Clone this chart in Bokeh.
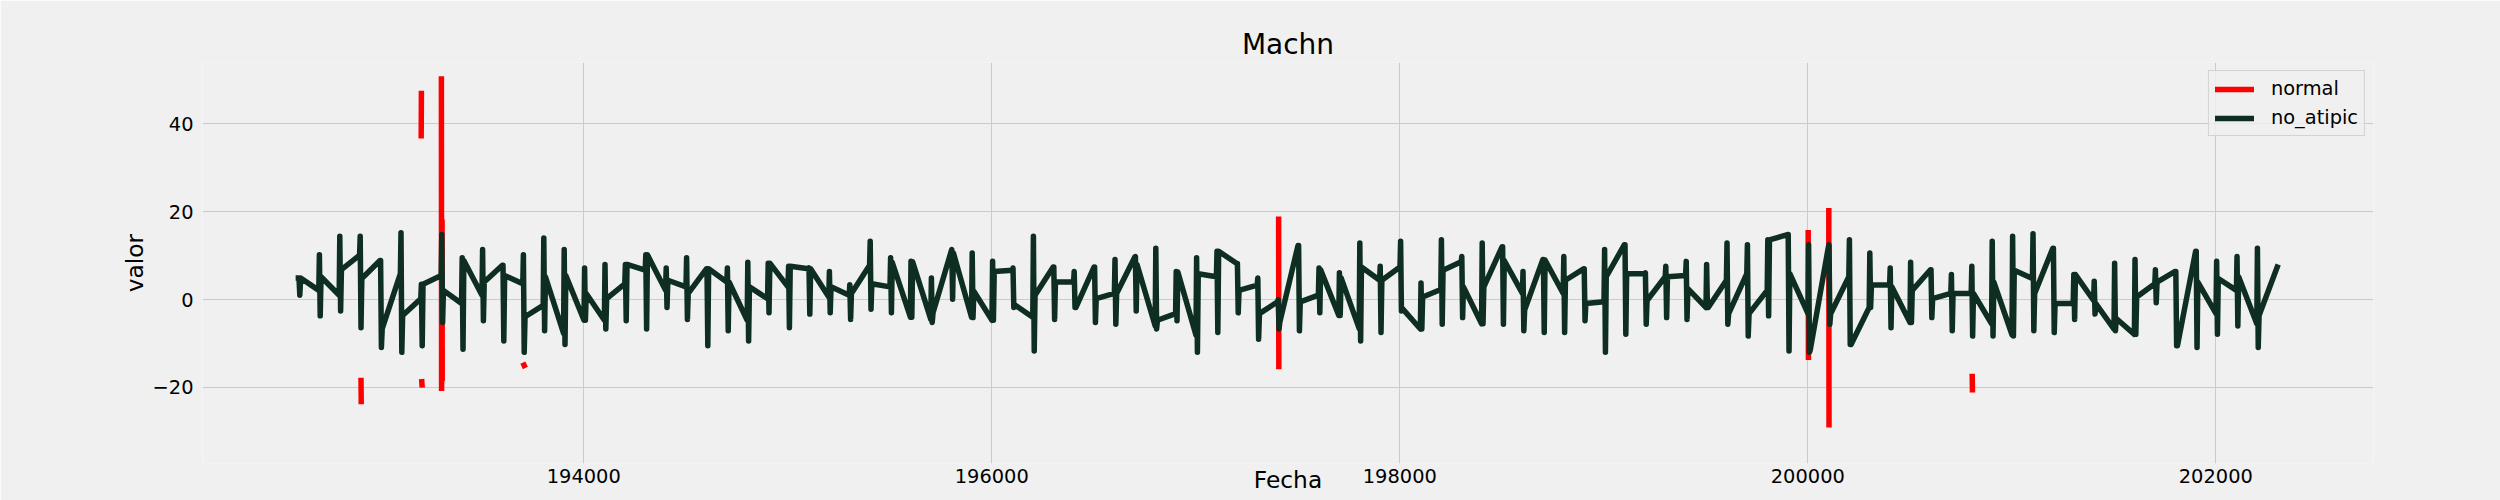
from bokeh.plotting import figure
from bokeh.models import FixedTicker, BasicTickFormatter, Range1d
from bokeh.embed import file_html
from bokeh.resources import INLINE

# anios de la serie (cada anio: enero, maximo, minimo, diciembre)
anios = list(range(1926, 2023))

ene = [4.9, 2.1, 1.0, 10.1, 8.9, 5.9, 0.2, 5.5, -0.9, 1.0,
       7.8, 3.6, -1.3, -7.7, -4.7, -4.7, 3.6, 6.7, 2.1, 2.9,
       7.0, 4.0, -4.7, 0.2, 2.9, 7.0, 0.6, 1.0, 7.8, 2.9,
       -4.0, -4.5, 11.0, -4.0, -4.7, 6.7, -4.0, 7.4, 4.0, 7.4,
       1.4, 9.7, -6.0, -3.2, -8.1, 5.2, 8.2, 3.3, -0.5, 12.3,
       1.0, -3.6, -6.6, 4.4, 7.4, -6.7, 2.3, 8.6, -5.5, 12.0,
       1.4, 9.1, 1.4, 7.0, -0.5, 12.5, 5.9, 5.2, 5.5, -1.8,
       4.4, 5.9, 2.1, 14.8, -3.2, 12.0, 5.2, -1.8, 3.3, -5.2,
       6.8, 1.4, 1.4, -5.5, -8.0, 4.8, 11.7, -0.9, -0.2, -6.7,
       -7.9, 3.6, 6.4, 11.0, -3.2, 2.1, -5.5]

maximo = [4.9, 10.2, 14.4, 14.4, 8.9, 15.2, 3.5, 14.8, 9.5, 11.4,
          7.8, 10.2, 14.0, 11.4, 7.2, 8.0, 8.0, 10.2, 7.2, 9.5,
          7.0, 7.2, 8.5, 8.3, 7.6, 7.2, 6.4, 3.4, 13.3, 9.5,
          8.7, 4.9, 11.4, 10.6, 8.7, 7.2, 14.4, 7.4, 6.4, 7.4,
          9.1, 9.8, 11.7, 6.4, 9.5, 11.0, 8.2, 4.9, 0.0, 12.3,
          7.2, 6.1, 12.9, 7.6, 13.3, 3.8, 13.6, 9.8, 12.9, 12.0,
          6.4, 9.1, 9.8, 7.0, 11.4, 12.5, 6.1, 7.6, 8.7, 8.0,
          12.9, 12.5, 13.6, 14.8, 12.5, 12.5, 13.6, 10.6, 7.2, 8.5,
          6.8, 5.7, 7.6, 13.3, 14.4, 15.0, 11.7, 5.7, 4.2, 8.3,
          9.1, 6.8, 6.4, 11.0, 8.7, 9.8, 11.7]

minimo = [1.0, -3.7, -2.6, -6.4, -10.9, -12.0, -10.5, -5.2, -11.3, -4.8,
          -9.4, -12.0, -7.1, -10.2, -4.7, -6.7, -4.8, -6.7, -1.8, -4.5,
          -10.5, -7.1, -9.4, -3.0, -6.4, -3.3, -3.0, -4.5, -2.2, -3.0,
          -4.0, -5.2, 0.1, -4.1, -4.7, -1.8, -11.7, -4.5, -1.8, -5.2,
          -5.6, -2.6, -6.7, -4.8, -12.0, -7.5, -3.0, -9.0, -6.7, -7.1,
          -3.0, -3.6, -9.4, -7.5, -2.6, -6.7, -5.6, -4.1, -5.5, -5.6,
          -7.1, -7.5, -7.5, -4.8, -12.0, -7.9, -5.6, -4.1, -4.5, -1.8,
          -5.6, -8.3, -3.7, -11.7, -12.0, -5.6, -10.2, -1.8, -6.4, -5.2,
          -4.1, -7.1, -8.3, -8.3, -8.3, -7.1, -7.5, -4.5, -3.3, -7.1,
          -7.9, -0.7, -10.5, -10.9, -7.9, -6.0, -10.9]

dic = [4.9, 5.2, 6.8, 4.8, -6.6, -3.6, 3.5, 2.1, 8.9, 4.0,
       5.5, -3.9, 5.2, 5.5, 1.4, 0.2, 8.0, 10.2, 4.4, 1.4,
       7.0, 4.0, 2.9, 8.3, 7.6, 7.0, 2.9, 1.4, 3.6, 8.5,
       8.6, -3.0, 10.6, 1.9, 6.4, -1.2, 1.0, 4.0, -1.8, 0.2,
       1.4, 8.0, -4.7, 6.3, 5.9, 11.0, 2.1, -3.2, -5.1, -0.5,
       6.8, 5.0, 7.4, 4.4, -2.0, 0.6, 6.7, 2.9, 2.9, 8.9,
       -2.4, 9.0, 4.4, -0.9, 5.2, 5.9, -0.2, 5.2, 2.5, -1.8,
       -3.2, -3.2, 13.6, 5.9, -11.5, -3.2, -10.2, 3.3, 2.9, 2.1,
       0.2, 1.4, 1.4, 4.0, 6.7, 1.4, -0.9, 5.7, -0.9, -4.3,
       0.6, 4.0, -10.5, 4.0, 4.8, 5.2, -3.6]

# ultimo dato: 202301
fecha_final = 202301
valor_final = 7.4

# tramos de la serie "normal" (valores atipicos)
normal_fecha = [[192908, 192909], [193203, 193204], [193206, 193207],
                [193302, 193303], [193305, 193306], [193707, 193708],
                [197406, 197407], [200002, 200003], [200103, 200104],
                [200806, 200807]]
normal_valor = [[-18.4, -23.2], [37.3, 46.9], [-18.7, -19.4],
                [50.2, -20.2], [17.6, -17.9], [-14.9, -15.0],
                [18.3, -15.2], [15.2, -13.1], [20.2, -28.5],
                [-17.5, -20.5]]

x_ticks = [194000, 196000, 198000, 200000, 202000]
y_ticks = [-20, 0, 20, 40]

fecha = []
valor = []
for i, a in enumerate(anios):
    fecha += [a * 100 + 1, a * 100 + 4, a * 100 + 8, a * 100 + 12]
    valor += [ene[i], maximo[i], minimo[i], dic[i]]
fecha.append(fecha_final)
valor.append(valor_final)

FONT = "DejaVu Sans"
BG = "#f0f0f0"

p = figure(width=2500, height=500, output_backend="svg", toolbar_location=None,
           x_range=Range1d(192131, 202773), y_range=Range1d(-37.3, 53.96),
           min_border_left=202, min_border_right=127, min_border_top=62,
           min_border_bottom=37, background_fill_color=BG, border_fill_color=BG,
           outline_line_color=None, title="Machn")

p.title.text_font = FONT
p.title.text_font_size = "28px"
p.title.text_font_style = "normal"
p.title.text_color = "#000000"
p.title.align = "center"
p.title.standoff = 3

p.multi_line(normal_fecha, normal_valor, line_color="#ff0000", line_width=5.5,
             line_cap="square", legend_label="normal")
p.line(fecha, valor, line_color="#0e2e22", line_width=5.5, line_join="round",
       line_cap="square", legend_label="no_atipic")

p.xaxis.ticker = FixedTicker(ticks=x_ticks)
p.xaxis.formatter = BasicTickFormatter(use_scientific=False)
p.yaxis.ticker = FixedTicker(ticks=y_ticks)
p.yaxis.major_label_overrides = {-20: "\u221220"}
p.xaxis.axis_label = "Fecha"
p.yaxis.axis_label = "valor"

for ax in [p.xaxis[0], p.yaxis[0]]:
    ax.axis_line_color = None
    ax.major_tick_line_color = None
    ax.minor_tick_line_color = None
    ax.major_tick_out = 0
    ax.major_tick_in = 0
    ax.major_label_text_font = FONT
    ax.major_label_text_font_size = "19.4px"
    ax.major_label_text_color = "#000000"
    ax.axis_label_text_font = FONT
    ax.axis_label_text_font_size = "23.3px"
    ax.axis_label_text_font_style = "normal"
    ax.axis_label_text_color = "#000000"
p.xaxis.major_label_standoff = 5
# "Fecha" queda pegada al borde inferior, sin agrandar el margen
p.xaxis.axis_label_standoff = -20
p.yaxis.major_label_standoff = 9
p.yaxis.axis_label_standoff = 2

p.xgrid.grid_line_color = "#cbcbcb"
p.ygrid.grid_line_color = "#cbcbcb"
p.xgrid.grid_line_width = 1
p.ygrid.grid_line_width = 1

p.legend.location = "top_right"
p.legend.margin = 8
p.legend.padding = 6
p.legend.spacing = 6
p.legend.glyph_width = 39
p.legend.glyph_height = 22
p.legend.label_height = 22
p.legend.label_standoff = 17
p.legend.label_text_font = FONT
p.legend.label_text_font_size = "19.4px"
p.legend.label_text_color = "#000000"
p.legend.background_fill_color = BG
p.legend.background_fill_alpha = 0.8
p.legend.border_line_color = "#cccccc"
p.legend.border_line_alpha = 0.8

open("out.html", "w").write(file_html(p, INLINE))
